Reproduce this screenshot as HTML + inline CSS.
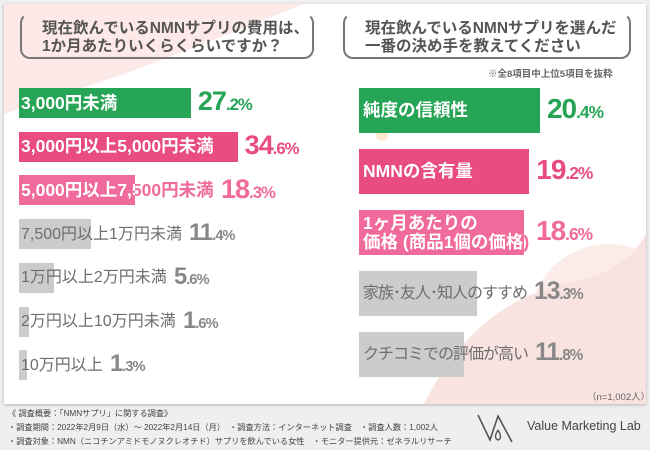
<!DOCTYPE html>
<html><head><meta charset="utf-8">
<style>
*{margin:0;padding:0;box-sizing:border-box}
body{width:650px;height:450px;background:#efefef;font-family:"Liberation Sans","Noto Sans CJK JP",sans-serif;position:relative;overflow:hidden}
#card{position:absolute;left:4px;top:4px;width:642px;height:400px;background:#fff;box-shadow:0 1px 3px rgba(0,0,0,.25);overflow:hidden}
.abs{position:absolute}
.bubble{position:absolute;border:2px solid #777;border-radius:10px;border-top-color:transparent;border-bottom-color:#777;height:46px;color:#555;font-size:15.5px;font-weight:bold;line-height:18px;padding:5px 0 0 20px;white-space:nowrap}
.lbl{position:absolute;white-space:nowrap}
.val{position:absolute;font-weight:bold;white-space:nowrap;letter-spacing:-1px}
.val small{font-size:0.62em}
.foot{position:absolute;left:8px;font-size:8.2px;color:#444;white-space:nowrap}
</style></head><body>
<div id="card">
 <svg class="abs" style="left:0;top:0" width="642" height="400">
  <path d="M0,0 L300,0 Q200,40 120,70 Q60,90 0,110Z" fill="#fbe4e2" opacity=".8"/>
  <path d="M420,400 Q470,300 560,280 Q620,270 642,230 L642,400Z" fill="#f8dcd8" opacity=".8"/>
  <circle cx="605" cy="320" r="80" fill="#f9e3e0" opacity=".7"/>
  <circle cx="378" cy="131" r="6" fill="#fde9cf"/>
 </svg>
 <div class="bubble" style="left:16px;top:9px;width:294px">現在飲んでいるNMNサプリの費用は、<br>1か月あたりいくらくらいですか？</div>
 <div class="bubble" style="left:339px;top:9px;width:288px">現在飲んでいるNMNサプリを選んだ<br>一番の決め手を教えてください</div>
 <div class="abs" style="left:484px;top:62px;font-size:9.5px;color:#666;font-weight:bold">※全8項目中上位5項目を抜粋</div>
 <div class="abs" style="left:583px;top:385px;font-size:9.5px;color:#666">（n=1,002人）</div>
 <div id="left"></div>
 <div id="right"></div>
</div>
<div class="foot" style="top:407px">《 調査概要：「NMNサプリ」に関する調査》</div>
<div class="foot" style="top:421px">・調査期間：2022年2月9日（水）～ 2022年2月14日（月）　・調査方法：インターネット調査　・調査人数：1,002人</div>
<div class="foot" style="top:435px">・調査対象：NMN（ニコチンアミドモノヌクレオチド）サプリを飲んでいる女性　・モニター提供元：ゼネラルリサーチ</div>
<svg class="abs" style="left:476px;top:412px" width="42" height="32"><path d="M2,3 L14,28 L22,4 L36,30" fill="none" stroke="#555" stroke-width="1.6"/><path d="M22,18 Q17,26 22,28 Q27,26 22,18" fill="none" stroke="#555" stroke-width="1.4"/></svg>
<div class="abs" style="left:527px;top:419px;font-size:12.5px;color:#444">Value Marketing Lab</div>
<script>
const leftCats=["3,000円未満","3,000円以上5,000円未満","5,000円以上7,500円未満","7,500円以上1万円未満","1万円以上2万円未満","2万円以上10万円未満","10万円以上"];
const leftVals=[27.2,34.6,18.3,11.4,5.6,1.6,1.3];
const rightCats=["純度の信頼性","NMNの含有量","1ヶ月あたりの<br>価格 (商品1個の価格)","家族･友人･知人のすすめ","クチコミでの評価が高い"];
const rightVals=[20.4,19.2,18.6,13.3,11.8];
const colors=["#27a556","#e84c82","#f06a9b"];
const gray="#cccccc";
function fmt(v){const s=v.toFixed(1).split(".");return s[0]+"<small>."+s[1]+"%</small>";}
function measure(html,fs,wt,ls){const d=document.createElement('span');d.style.cssText="position:absolute;visibility:hidden;white-space:nowrap;font-weight:"+wt+";font-size:"+fs+"px;letter-spacing:"+ls+"px";d.innerHTML=html;document.body.appendChild(d);const w=d.offsetWidth;d.remove();return w;}
function build(root,cats,vals,o){
 const c=document.getElementById(root);
 vals.forEach((v,i)=>{
  const col=i<3?colors[i]:gray;
  const w=v*o.scale, y=o.y0+i*o.step-4, x=o.x0-4;
  const h=i<3||o.allH?o.h:30;
  const bar=document.createElement('div');
  
  
  bar.className='abs';bar.style.cssText=`left:${x}px;top:${y}px;width:${w}px;height:${h}px;background:${col}`;
  c.appendChild(bar);
  const multi=cats[i].includes('<br>');
  const fs=i<3?o.fs:o.gfs;
  const wt=i<3?'bold':'normal';
  const ls=i<3?0:o.gls;
  const lw=Math.max(...cats[i].split('<br>').map(t=>measure(t,fs,wt,ls)));
  const ty=y+(h-(multi?fs*2.1:fs*1.2))/2;
  const tcol=i<3?col:"#6e6e6e";
  const lab=document.createElement('div');
  
  
  lab.className='lbl';lab.style.cssText=`left:${x+o.pad}px;top:${ty}px;font-size:${fs}px;font-weight:${wt};letter-spacing:${ls}px;line-height:${multi?1.05:1.2};color:${tcol};`;
  lab.innerHTML=cats[i];c.appendChild(lab);
  if(i<3){const clip=document.createElement('div');clip.className='abs';clip.style.cssText=`left:${x}px;top:0;width:${w}px;height:400px;overflow:hidden`;
   const wl=lab.cloneNode(true);wl.style.left=o.pad+'px';wl.style.color='#fff';wl.style.textShadow='0 0 1px '+col+',0 0 1px '+col;clip.appendChild(wl);c.appendChild(clip);}
  const vx=Math.max(x+w,x+o.pad+lw)+o.gap;
  const vfs=i<3?o.vfs:o.vfs*0.88;
  const val=document.createElement('div');
  
  
  val.className='val';val.style.cssText=`left:${vx}px;top:${y+h/2-vfs*0.62}px;font-size:${vfs}px;color:${i<3?col:'#888'}`;
  val.innerHTML=fmt(v);c.appendChild(val);
 });
}
build('left',leftCats,leftVals,{x0:19,y0:88,step:43.7,scale:6.32,h:30,fs:17.5,gfs:16,gls:0,vfs:27,pad:2,gap:7});
build('right',rightCats,rightVals,{x0:359,y0:88,step:61,scale:8.87,h:45,fs:17.5,gfs:16,gls:-1,vfs:28,pad:4,gap:7,allH:true});
</script>
</body></html>
